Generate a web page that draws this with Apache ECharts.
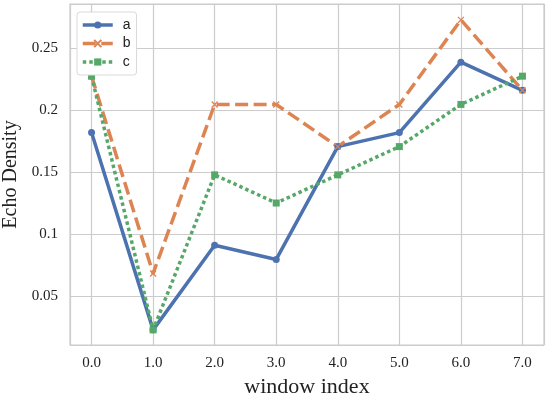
<!DOCTYPE html>
<html>
<head>
<meta charset="utf-8">
<script src="https://cdn.jsdelivr.net/npm/echarts@6/dist/echarts.min.js"></script>
<style>html,body{margin:0;padding:0;background:#fff}#c{width:550px;height:396px}</style>
</head>
<body>
<div id="c"></div>
<script>
var windowIndex = [0, 1, 2, 3, 4, 5, 6, 7];
var xTickLabels = ['0.0', '1.0', '2.0', '3.0', '4.0', '5.0', '6.0', '7.0'];
var seriesA = [0.1818, 0.0227, 0.0909, 0.0795, 0.1705, 0.1818, 0.2386, 0.2159];
var seriesB = [0.2273, 0.0682, 0.2045, 0.2045, 0.1705, 0.2045, 0.2727, 0.2159];
var seriesC = [0.2273, 0.0227, 0.1477, 0.1250, 0.1477, 0.1705, 0.2045, 0.2273];

function pairs(vals) { return windowIndex.map(function (x, i) { return [x, vals[i]]; }); }

var serif = 'Liberation Serif';
var chart = echarts.init(document.getElementById('c'), null, { renderer: 'canvas' });
chart.setOption({
  animation: false,
  backgroundColor: '#ffffff',
  grid: { left: 70, right: 6, top: 4, bottom: 51, containLabel: false, outerBoundsMode: 'none', show: true, borderColor: '#cccccc', borderWidth: 1.2, backgroundColor: '#ffffff' },
  legend: {
    left: 77, top: 12, orient: 'vertical',
    backgroundColor: '#ffffff', borderColor: '#d9d9d9', borderWidth: 1, borderRadius: 3,
    padding: [6, 6, 6, 4], itemWidth: 30, itemHeight: 9, itemGap: 4.5,
    lineStyle: { width: 3.5 },
    textStyle: { fontFamily: 'Liberation Sans', fontSize: 14, color: '#222', padding: [0, 0, 0, 5] },
    data: ['a', 'b', 'c']
  },
  xAxis: {
    type: 'value', min: -0.35, max: 7.35, splitNumber: 8,
    name: 'window index', nameLocation: 'middle', nameGap: 25,
    nameTextStyle: { fontFamily: serif, fontSize: 22, color: '#222' },
    axisLine: { show: false }, axisTick: { show: false },
    axisLabel: {
      showMinLabel: false, showMaxLabel: false, margin: 11,
      fontFamily: serif, fontSize: 15, color: '#222',
      formatter: function (v) { var i = windowIndex.indexOf(v); return i >= 0 ? xTickLabels[i] : ''; }
    },
    splitLine: { show: true, lineStyle: { color: '#cccccc', width: 1.2 } }
  },
  yAxis: {
    type: 'value', min: 0.0105, max: 0.2855, splitNumber: 5,
    name: 'Echo Density', nameLocation: 'middle', nameGap: 44,
    nameTextStyle: { fontFamily: serif, fontSize: 20, color: '#222', padding: [0, 0, 0, 0] },
    axisLine: { show: false }, axisTick: { show: false },
    axisLabel: { showMinLabel: false, showMaxLabel: false, margin: 12, fontFamily: serif, fontSize: 15, color: '#222' },
    splitLine: { show: true, lineStyle: { color: '#cccccc', width: 1.2 } }
  },
  series: [
    {
      name: 'a', type: 'line', data: pairs(seriesA),
      symbol: 'circle', symbolSize: 7, showAllSymbol: true,
      itemStyle: { color: '#4c72b0' },
      lineStyle: { color: '#4c72b0', width: 3.5, type: 'solid' }
    },
    {
      name: 'b', type: 'line', data: pairs(seriesB),
      symbol: 'path://M0,0L10,10M10,0L0,10', symbolSize: 6, showAllSymbol: true,
      itemStyle: { color: '#dd8452', borderColor: '#dd8452', borderWidth: 1.3 },
      lineStyle: { color: '#dd8452', width: 3.5, type: [13, 5.5] }
    },
    {
      name: 'c', type: 'line', data: pairs(seriesC),
      symbol: 'rect', symbolSize: 7, showAllSymbol: true,
      itemStyle: { color: '#55a868' },
      lineStyle: { color: '#55a868', width: 3.5, type: [3.5, 3] }
    }
  ]
});
</script>
</body>
</html>
